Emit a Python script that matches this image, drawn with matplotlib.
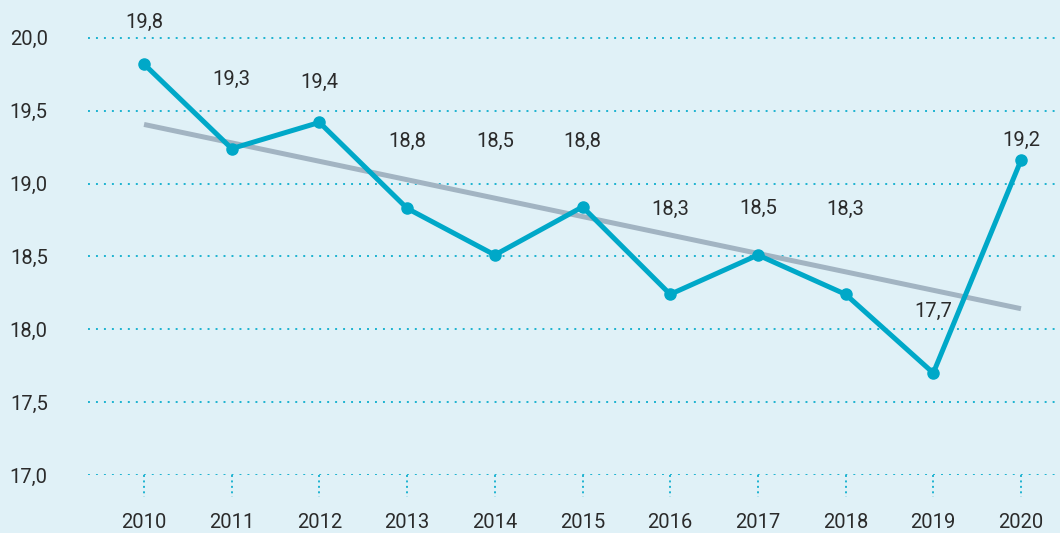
import matplotlib
matplotlib.use("Agg")
import matplotlib.pyplot as plt
import matplotlib.transforms as mtransforms
import numpy as np

# data
years = [2010, 2011, 2012, 2013, 2014, 2015, 2016, 2017, 2018, 2019, 2020]
values = [19.82, 19.24, 19.42, 18.83, 18.51, 18.84, 18.24, 18.51, 18.24, 17.70, 19.16]
labels = ["19,8", "19,3", "19,4", "18,8", "18,5", "18,8", "18,3", "18,5", "18,3", "17,7", "19,2"]
yticks = [17.0, 17.5, 18.0, 18.5, 19.0, 19.5, 20.0]

# label offsets above each point (pixels)
label_dy = [42, 69, 40, 67, 114, 65, 85, 47, 85, 62, 20]

bg = "#e0f1f7"
line_col = "#00a8c8"
trend_col = "#a2b4c2"
grid_col = "#1db3d0"
text_col = "#2b2b2b"

plt.rcParams["font.family"] = ["Roboto", "DejaVu Sans"]

fig = plt.figure(figsize=(10.6, 5.33), dpi=100, facecolor=bg)
ax = fig.add_axes([88 / 1060, 58 / 533, 1 - 88 / 1060, 475 / 533])
ax.set_facecolor(bg)

ax.set_xlim(2009.361, 2020.445)
ax.set_ylim(17.0, 20.26)

# gridlines
for y in yticks:
    ax.axhline(y, color=grid_col, lw=1.4, ls=(0, (1, 3.1)), zorder=1)

# dotted tick marks below the axis
trans = mtransforms.blended_transform_factory(ax.transData, ax.transAxes)
for x in years:
    ax.plot([x, x], [0, -0.046], transform=trans, color=grid_col, lw=1.4,
            ls=(0, (1, 1.8)), clip_on=False, zorder=1)

# trend line (linear fit)
xs = np.array(years, dtype=float)
k, b = np.polyfit(xs, values, 1)
ax.plot(xs[[0, -1]], k * xs[[0, -1]] + b, color=trend_col, lw=3.6,
        solid_capstyle="butt", zorder=2)

ax.plot(years, values, color=line_col, lw=3.6, marker="o", ms=8,
        solid_joinstyle="miter", zorder=3)

for x, v, lab, dy in zip(years, values, labels, label_dy):
    ax.annotate(lab, (x, v), xytext=(0, dy), textcoords="offset pixels",
                ha="center", va="center", fontsize=14.5, color=text_col)

ax.set_yticks(yticks)
ax.set_yticklabels([f"{t:.1f}".replace(".", ",") for t in yticks])
ax.set_xticks(years)
ax.set_xticklabels([str(y) for y in years])
ax.tick_params(axis="y", length=0, pad=29, labelsize=14.5, labelcolor=text_col)
ax.tick_params(axis="x", length=0, pad=27, labelsize=14.5, labelcolor=text_col)
for s in ax.spines.values():
    s.set_visible(False)

fig.savefig("out.png", dpi=100, facecolor=bg)
